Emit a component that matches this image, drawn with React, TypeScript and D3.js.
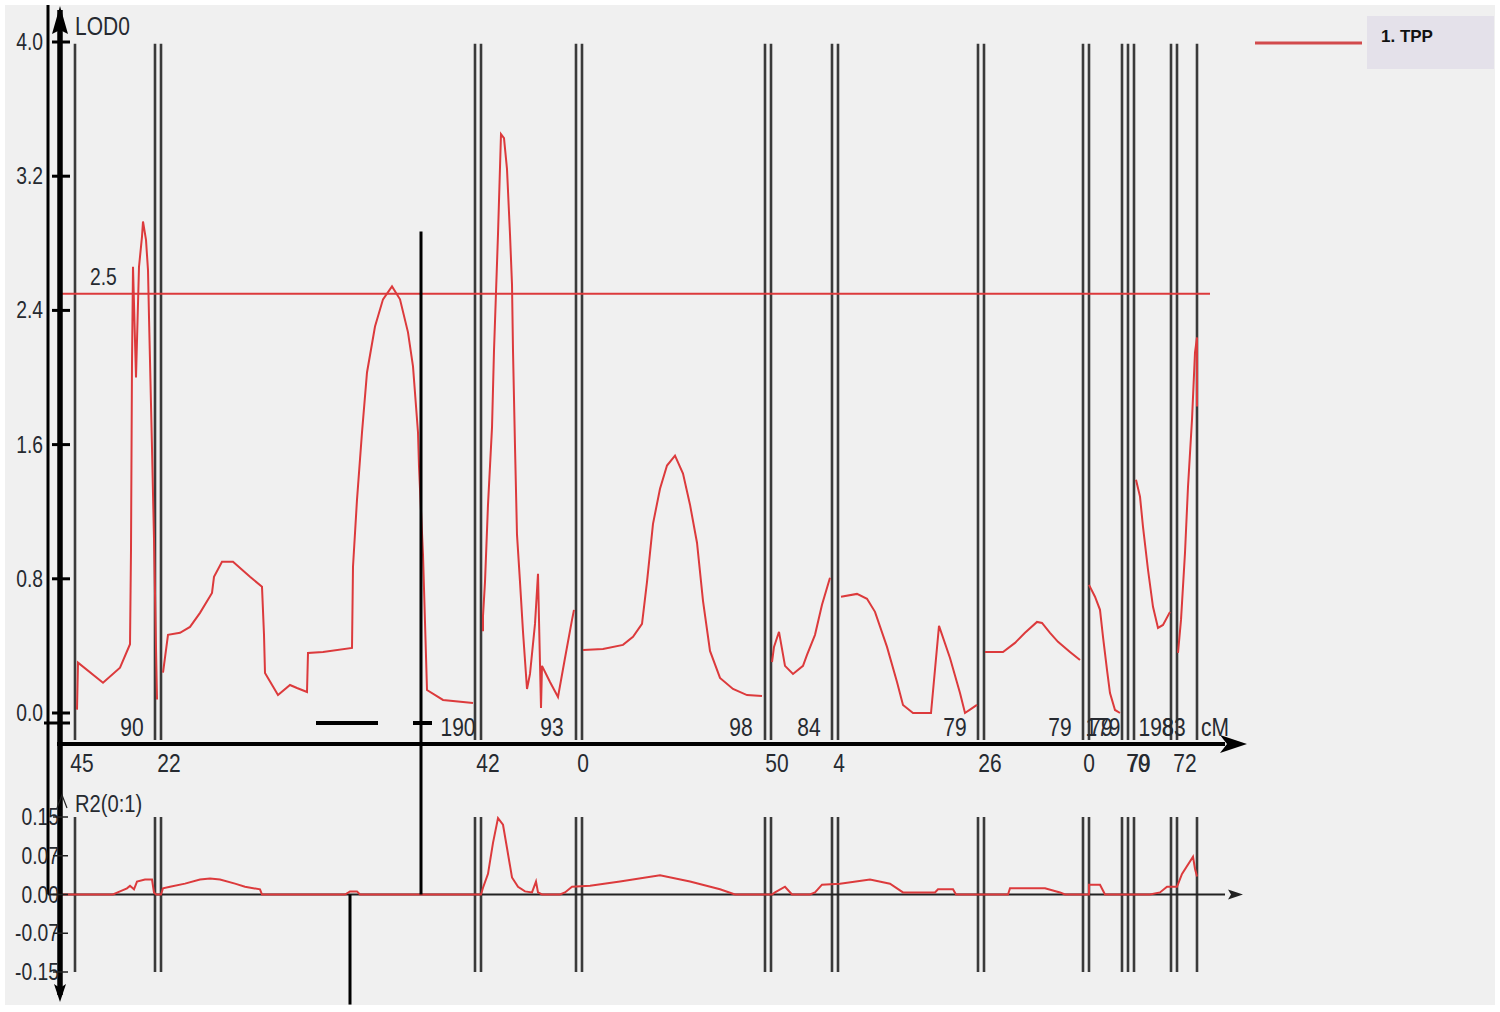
import React, { useEffect, useRef } from 'react';
import * as d3 from 'd3';

// genome position (cumulative cM along the x axis) of the chromosome marker lines
const markerPos = [15, 95, 101, 415, 421, 516, 522, 705, 711, 772, 778, 918, 924, 1023, 1029, 1062, 1068, 1074, 1111, 1117, 1137];

const lodTicks = [0, 0.8, 1.6, 2.4, 3.2, 4.0];
const r2Ticks = [0.15, 0.075, 0, -0.075, -0.15];
const r2TickLabels = ['0.15', '0.07', '0.00', '-0.07', '-0.15'];
const threshold = 2.5;

// chromosome end labels (above the axis) and start labels (below)
const endLabels: [string, number][] = [
  ['90', 72], ['190', 398], ['93', 492], ['98', 681], ['84', 749], ['79', 895],
  ['79', 1000], ['179', 1043], ['79', 1041], ['198', 1096], ['83', 1114], ['cM', 1155],
];
const startLabels: [string, number][] = [
  ['45', 22], ['22', 109], ['42', 428], ['0', 523], ['50', 717], ['4', 779],
  ['26', 930], ['0', 1029], ['70', 1078], ['79', 1079], ['72', 1125],
];

// LOD profile, one array per chromosome: [position, LOD]
const lod1 = [[17, 0.02], [18, 0.30], [43, 0.18], [60, 0.27], [70, 0.41], [71, 0.97], [72, 2.09], [73, 2.66], [76, 2.0], [79, 2.66], [82, 2.84], [83, 2.93], [86, 2.82], [88, 2.64], [89, 2.36], [92, 1.58], [94, 1.04], [96, 0.39], [97, 0.08]];
const lod2 = [[103, 0.24], [108, 0.466], [120, 0.478], [130, 0.513], [140, 0.597], [152, 0.716], [154, 0.812], [162, 0.901], [173, 0.901], [190, 0.812], [202, 0.752], [204, 0.466], [205, 0.239], [218, 0.107], [230, 0.167], [237, 0.149], [247, 0.125], [248, 0.358], [263, 0.364], [292, 0.388], [293, 0.872], [297, 1.272], [302, 1.672], [307, 2.03], [315, 2.304], [323, 2.466], [332, 2.543], [340, 2.466], [348, 2.269], [353, 2.066], [358, 1.672], [359, 1.469], [363, 0.943], [367, 0.137], [383, 0.078], [413, 0.06]];
const lod3 = [[423, 0.487], [423, 0.579], [425, 0.782], [428, 1.242], [432, 1.701], [434, 2.161], [436, 2.507], [438, 2.854], [441, 3.451], [444, 3.427], [447, 3.242], [450, 2.854], [452, 2.555], [453, 2.161], [455, 1.588], [457, 1.063], [460, 0.782], [463, 0.484], [467, 0.143], [470, 0.233], [475, 0.531], [478, 0.83], [479, 0.555], [481, 0.03], [482, 0.281], [490, 0.185], [498, 0.096], [505, 0.328], [512, 0.555], [514, 0.615]];
const lod4 = [[523, 0.376], [543, 0.382], [563, 0.406], [573, 0.454], [582, 0.531], [587, 0.782], [593, 1.128], [600, 1.337], [607, 1.475], [615, 1.534], [623, 1.427], [630, 1.242], [637, 1.015], [643, 0.669], [650, 0.37], [660, 0.209], [673, 0.143], [687, 0.107], [702, 0.101]];
const lod5 = [[712, 0.304], [714, 0.394], [719, 0.484], [725, 0.281], [733, 0.233], [743, 0.281], [747, 0.346], [755, 0.466], [762, 0.645], [770, 0.806]];
const lod6 = [[781, 0.693], [797, 0.71], [807, 0.681], [815, 0.603], [827, 0.394], [837, 0.185], [843, 0.048], [853, 0.0], [871, 0.0], [879, 0.519], [890, 0.328], [900, 0.119], [905, 0.0], [910, 0.02], [917, 0.048]];
const lod7 = [[925, 0.364], [943, 0.364], [955, 0.418], [965, 0.478], [977, 0.543], [982, 0.537], [990, 0.478], [998, 0.424], [1010, 0.364], [1020, 0.316]];
const lod8 = [[1029, 0.764], [1035, 0.693], [1040, 0.615], [1043, 0.454], [1047, 0.257], [1050, 0.119], [1055, 0.018], [1060, 0.0]];
const lod9 = [[1076, 1.391], [1080, 1.29], [1083, 1.11], [1088, 0.854], [1093, 0.633], [1098, 0.507], [1103, 0.525], [1110, 0.603]];
const lod10 = [[1118, 0.358], [1121, 0.555], [1125, 0.955], [1128, 1.349], [1132, 1.749], [1135, 2.149], [1137, 2.239], [1137, 1.827]];
const lodSegments = [lod1, lod2, lod3, lod4, lod5, lod6, lod7, lod8, lod9, lod10];

// R2 profile: [position, R2]
const r2Profile = [[3, 0], [53, 0], [60, 0.006], [67, 0.012], [70, 0.017], [74, 0.01], [77, 0.025], [85, 0.029], [92, 0.029], [94, 0.004], [96, 0], [101, 0], [103, 0.012], [110, 0.015], [125, 0.021], [140, 0.029], [150, 0.031], [160, 0.029], [175, 0.021], [185, 0.015], [200, 0.01], [202, 0], [285, 0], [290, 0.006], [297, 0.006], [300, 0], [421, 0], [423, 0.013], [428, 0.04], [433, 0.1], [438, 0.148], [443, 0.135], [447, 0.09], [452, 0.033], [458, 0.015], [465, 0.006], [472, 0.004], [476, 0.025], [478, 0.004], [482, 0], [500, 0], [505, 0.004], [512, 0.015], [530, 0.017], [560, 0.025], [600, 0.037], [630, 0.025], [660, 0.01], [675, 0], [712, 0], [715, 0.004], [725, 0.015], [732, 0], [750, 0], [755, 0.004], [762, 0.019], [780, 0.021], [810, 0.029], [830, 0.021], [843, 0.004], [875, 0.004], [878, 0.01], [893, 0.01], [896, 0], [948, 0], [950, 0.012], [985, 0.012], [1000, 0.004], [1005, 0], [1029, 0], [1029, 0.019], [1040, 0.019], [1045, 0], [1090, 0], [1100, 0.004], [1107, 0.015], [1110, 0.015], [1117, 0.015], [1122, 0.04], [1133, 0.073], [1135, 0.05], [1137, 0.035]];

// QTL marks: peak line and confidence bar
const qtlPeak = { pos: 361, lodTop: 2.87 };
const qtlR2Line = { pos: 290, r2Bottom: -0.213 };
const ciBars = [[256, 318], [353, 372]];

function App() {
  const svgRef = useRef<SVGSVGElement>(null);

  useEffect(() => {
    const svg = d3.select(svgRef.current);
    svg.selectAll('*').remove();

    const font = '"Liberation Sans", Arial, sans-serif';
    const red = '#dc3a3c';
    const squeeze = 0.84; // the program draws a narrow face

    const x = d3.scaleLinear().domain([0, 1190]).range([60, 1250]);
    const yL = d3.scaleLinear().domain([0, 4.0]).range([713, 42]);
    const yR = d3.scaleLinear().domain([-0.15, 0.15]).range([972, 817]);

    svg.append('rect').attr('width', 1500).attr('height', 1012).attr('fill', '#ffffff');
    svg.append('rect').attr('x', 5).attr('y', 5).attr('width', 1490).attr('height', 1000).attr('fill', '#f0f0f0');

    const g = svg.append('g');

    // narrow text helper
    const label = (tx: number, ty: number, s: string, size: number, anchor = 'start') =>
      g.append('text')
        .attr('transform', `translate(${tx},${ty}) scale(${squeeze},1)`)
        .attr('text-anchor', anchor)
        .attr('font-family', font).attr('font-size', size).attr('fill', '#262a30')
        .text(s);

    // chromosome marker lines
    g.selectAll('.mk-top').data(markerPos).enter().append('line')
      .attr('x1', d => x(d)).attr('x2', d => x(d))
      .attr('y1', yL(3.99)).attr('y2', 740)
      .attr('stroke', '#3a3a3a').attr('stroke-width', 2.6);
    g.selectAll('.mk-bot').data(markerPos).enter().append('line')
      .attr('x1', d => x(d)).attr('x2', d => x(d))
      .attr('y1', yR(0.15)).attr('y2', yR(-0.15))
      .attr('stroke', '#3a3a3a').attr('stroke-width', 2.6);

    // threshold
    g.append('line').attr('x1', x(0)).attr('x2', x(1150))
      .attr('y1', yL(threshold)).attr('y2', yL(threshold))
      .attr('stroke', red).attr('stroke-width', 2);
    label(90, yL(threshold) - 9, d3.format('.1f')(threshold), 23);

    // R2 axis line
    g.append('line').attr('x1', 48).attr('x2', x(1165))
      .attr('y1', yR(0)).attr('y2', yR(0))
      .attr('stroke', '#222').attr('stroke-width', 2);
    g.append('path')
      .attr('d', `M${x(1183)},${yR(0)} L${x(1168)},${yR(0) - 5} L${x(1171)},${yR(0)} L${x(1168)},${yR(0) + 5} Z`)
      .attr('fill', '#222');

    // LOD curve
    const lineL = d3.line<number[]>().x(d => x(d[0])).y(d => yL(d[1]));
    g.selectAll('.lod').data(lodSegments).enter().append('path')
      .attr('d', d => lineL(d))
      .attr('fill', 'none').attr('stroke', red).attr('stroke-width', 2);

    // R2 curve
    const lineR = d3.line<number[]>().x(d => x(d[0])).y(d => yR(d[1]));
    g.append('path').attr('d', lineR(r2Profile))
      .attr('fill', 'none').attr('stroke', red).attr('stroke-width', 2);

    // QTL marks
    g.append('line').attr('x1', x(qtlPeak.pos)).attr('x2', x(qtlPeak.pos))
      .attr('y1', yL(qtlPeak.lodTop)).attr('y2', yR(0))
      .attr('stroke', '#000').attr('stroke-width', 3);
    g.append('line').attr('x1', x(qtlR2Line.pos)).attr('x2', x(qtlR2Line.pos))
      .attr('y1', yR(0)).attr('y2', yR(qtlR2Line.r2Bottom))
      .attr('stroke', '#000').attr('stroke-width', 3);
    g.selectAll('.ci').data(ciBars).enter().append('line')
      .attr('x1', d => x(d[0])).attr('x2', d => x(d[1]))
      .attr('y1', 723).attr('y2', 723)
      .attr('stroke', '#000').attr('stroke-width', 4);

    // x axis
    g.append('line').attr('x1', 57).attr('x2', x(1165))
      .attr('y1', 744).attr('y2', 744)
      .attr('stroke', '#000').attr('stroke-width', 4);
    g.append('path')
      .attr('d', `M${x(1187)},744 L${x(1160)},735 L${x(1167)},744 L${x(1160)},753 Z`)
      .attr('fill', '#000');

    endLabels.forEach(([s, p]) => label(x(p), 736, s, 25, 'middle'));
    startLabels.forEach(([s, p]) => label(x(p), 772, s, 25, 'middle'));

    // left axes
    g.append('line').attr('x1', 48).attr('x2', 48).attr('y1', 5).attr('y2', yR(0))
      .attr('stroke', '#000').attr('stroke-width', 3);
    g.append('line').attr('x1', 60).attr('x2', 60).attr('y1', 10).attr('y2', 995)
      .attr('stroke', '#000').attr('stroke-width', 5.5);
    g.append('path').attr('d', 'M60,6 L52,34 L60,30 L68,34 Z').attr('fill', '#000');
    g.append('path').attr('d', 'M60,1002 L54,984 L60,988 L66,984 Z').attr('fill', '#000');
    g.append('path').attr('d', 'M57,808 L62,795 L67,808').attr('fill', 'none').attr('stroke', '#222').attr('stroke-width', 1.2);

    g.selectAll('.lodtick').data(lodTicks).enter().append('line')
      .attr('x1', 52).attr('x2', 70)
      .attr('y1', d => yL(d)).attr('y2', d => yL(d))
      .attr('stroke', '#000').attr('stroke-width', 3);
    g.append('line').attr('x1', 44).attr('x2', 70).attr('y1', 723).attr('y2', 723)
      .attr('stroke', '#000').attr('stroke-width', 3);
    lodTicks.forEach(t => label(43, yL(t) + 8, d3.format('.1f')(t), 23, 'end'));

    r2Ticks.forEach((t, i) => label(59, yR(t) + 8, r2TickLabels[i], 23, 'end'));
    g.selectAll('.r2tick').data(r2Ticks).enter().append('line')
      .attr('x1', 53).attr('x2', 68)
      .attr('y1', d => yR(d)).attr('y2', d => yR(d))
      .attr('stroke', '#222').attr('stroke-width', 1.5);

    label(75, 35, 'LOD0', 25);
    label(75, 812, 'R2(0:1)', 24);

    // legend
    g.append('line').attr('x1', 1255).attr('x2', 1362).attr('y1', 43).attr('y2', 43)
      .attr('stroke', '#d24a4c').attr('stroke-width', 3);
    g.append('rect').attr('x', 1367).attr('y', 16).attr('width', 127).attr('height', 53)
      .attr('fill', '#e4e1ea');
    g.append('text').attr('x', 1381).attr('y', 42)
      .attr('font-family', font).attr('font-size', 17)
      .attr('font-weight', 'bold').attr('fill', '#111').text('1. TPP');
  }, []);

  return (
    <svg ref={svgRef} width={1500} height={1012} style={{ position: 'absolute', left: 0, top: 0 }}></svg>
  );
}

export default App;
